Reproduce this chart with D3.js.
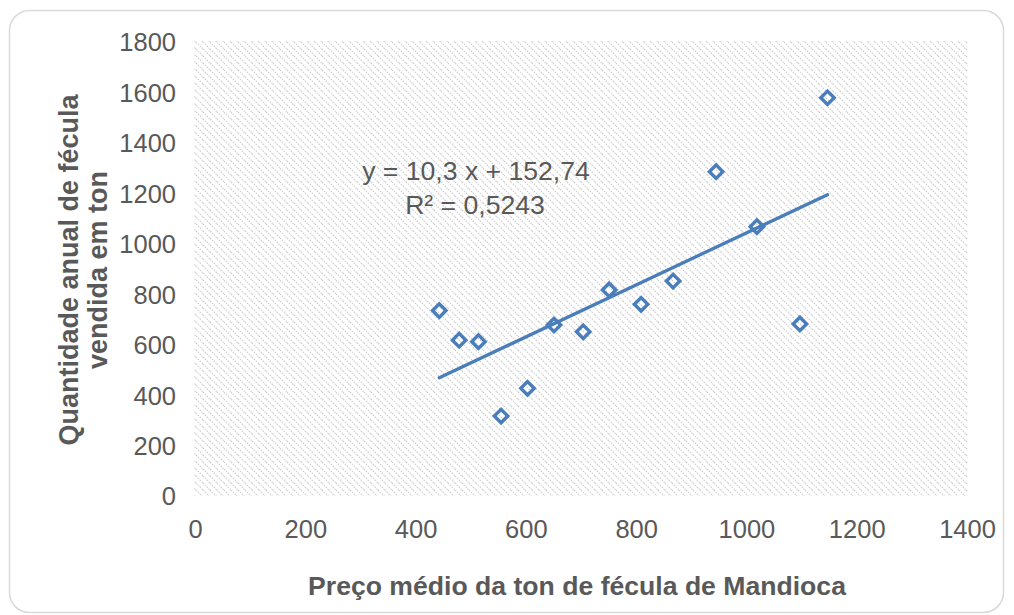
<!DOCTYPE html>
<html>
<head>
<meta charset="utf-8">
<script src="https://cdn.jsdelivr.net/npm/d3@7"></script>
<style>
  html, body { margin: 0; padding: 0; background: #ffffff; }
  svg { display: block; font-family: "Liberation Sans", Arial, sans-serif; }
</style>
</head>
<body>
<svg id="chart" width="1014" height="615"></svg>
<script>
// Preço médio (R$/ton) e quantidade anual vendida (ton)
const precos = [443, 479, 514, 555, 603, 651, 704, 751, 809, 867, 945, 1019, 1097, 1147];
const quantidades = [735, 618, 612, 317, 427, 678, 651, 817, 760, 852, 1286, 1068, 682, 1579];

const xTicks = [0, 200, 400, 600, 800, 1000, 1200, 1400];
const yTicks = [0, 200, 400, 600, 800, 1000, 1200, 1400, 1600, 1800];

const equacao = "y = 10,3 x + 152,74";
const r2Texto = "R² = 0,5243";
const tituloX = "Preço médio da ton de fécula de Mandioca";
const tituloY = ["Quantidade anual de fécula", "vendida em ton"];

const svg = d3.select("#chart");
const plot = { left: 195, right: 967, top: 42, bottom: 496 };

const x = d3.scaleLinear().domain([0, 1400]).range([plot.left, plot.right]);
const y = d3.scaleLinear().domain([0, 1800]).range([plot.bottom, plot.top]);

const azul = "#4a7ebb";
const cinzaTexto = "#595959";

// Outer chart frame
svg.append("rect")
  .attr("x", 9.5).attr("y", 10.5)
  .attr("width", 994).attr("height", 602)
  .attr("rx", 20).attr("ry", 20)
  .attr("fill", "#ffffff")
  .attr("stroke", "#d9d9d9").attr("stroke-width", 1.5);

// Diagonal hatch fill for plot area
const defs = svg.append("defs");
const pat = defs.append("pattern")
  .attr("id", "hatch")
  .attr("patternUnits", "userSpaceOnUse")
  .attr("width", 7).attr("height", 7);
pat.append("path")
  .attr("d", "M0,0 L7,7 M-1,6 L1,8 M6,-1 L8,1")
  .attr("stroke", "#cdcdcd")
  .attr("stroke-width", 1.1)
  .attr("stroke-dasharray", "1.6 1");

svg.append("rect")
  .attr("x", plot.left - 1).attr("y", plot.top - 1)
  .attr("width", plot.right - plot.left + 2)
  .attr("height", plot.bottom - plot.top + 1)
  .attr("fill", "url(#hatch)");

// Axes (labels only; no axis lines)
const xAxis = d3.axisBottom(x).tickValues(xTicks).tickSize(0).tickPadding(0).tickFormat(d3.format("d"));
const gx = svg.append("g").attr("transform", `translate(0,${plot.bottom})`).call(xAxis);
gx.select(".domain").remove();
gx.selectAll("text")
  .attr("y", 42).attr("dy", null)
  .attr("fill", cinzaTexto)
  .style("font-size", "25.5px")
  .style("font-family", "'Liberation Sans', Arial, sans-serif");

const yAxis = d3.axisLeft(y).tickValues(yTicks).tickSize(0).tickPadding(0).tickFormat(d3.format("d"));
const gy = svg.append("g").attr("transform", `translate(${plot.left - 19},0)`).call(yAxis);
gy.select(".domain").remove();
gy.selectAll("text")
  .attr("dy", "0.35em")
  .attr("fill", cinzaTexto)
  .style("font-size", "25.5px")
  .style("font-family", "'Liberation Sans', Arial, sans-serif");

// Linear trend line (least squares)
const n = precos.length;
const mx = d3.mean(precos), my = d3.mean(quantidades);
let sxy = 0, sxx = 0;
for (let i = 0; i < n; i++) {
  sxy += (precos[i] - mx) * (quantidades[i] - my);
  sxx += (precos[i] - mx) ** 2;
}
const b = sxy / sxx, a = my - b * mx;
const x0 = d3.min(precos), x1 = d3.max(precos);
svg.append("line")
  .attr("x1", x(x0)).attr("y1", y(a + b * x0))
  .attr("x2", x(x1)).attr("y2", y(a + b * x1))
  .attr("stroke", azul).attr("stroke-width", 3.3)
  .attr("stroke-linecap", "round");

// Diamond markers
const diamond = d3.symbol().type(d3.symbolSquare).size(90);
svg.append("g").selectAll("path")
  .data(precos.map((p, i) => [p, quantidades[i]]))
  .join("path")
  .attr("d", diamond)
  .attr("transform", d => `translate(${x(d[0])},${y(d[1])}) rotate(45)`)
  .attr("fill", "none")
  .attr("stroke", azul)
  .attr("stroke-width", 3.4);

// Trend equation
const eq = svg.append("g")
  .attr("fill", cinzaTexto)
  .style("font-size", "26.6px")
  .attr("text-anchor", "middle");
eq.append("text").attr("x", 476).attr("y", 180).text(equacao);
eq.append("text").attr("x", 475).attr("y", 214).text(r2Texto);

// Axis titles
svg.append("text")
  .attr("x", 577).attr("y", 595)
  .attr("text-anchor", "middle")
  .attr("fill", cinzaTexto)
  .style("font-size", "26.6px").style("font-weight", "bold")
  .text(tituloX);

const ty = svg.append("g")
  .attr("transform", `translate(0,${(plot.top + plot.bottom) / 2 + 1}) rotate(-90)`)
  .attr("fill", cinzaTexto)
  .attr("text-anchor", "middle")
  .style("font-size", "27px").style("font-weight", "bold");
ty.append("text").attr("x", 0).attr("y", 78).text(tituloY[0]);
ty.append("text").attr("x", 0).attr("y", 107).text(tituloY[1]);
</script>
</body>
</html>
